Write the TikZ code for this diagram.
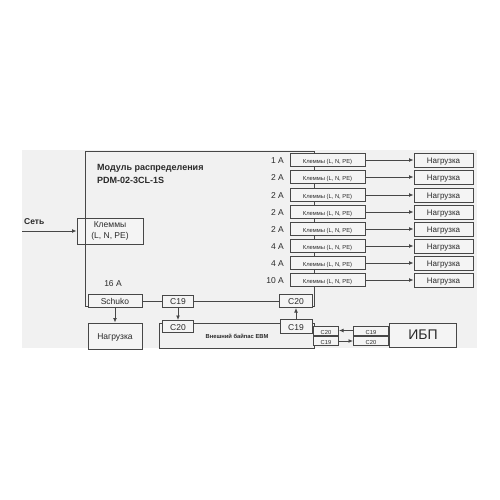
\documentclass[tikz,border=0pt]{standalone}
\usepackage{fontspec}
\setmainfont{Liberation Sans}
\usetikzlibrary{arrows.meta}
\definecolor{bgc}{HTML}{F1F1F1}
\definecolor{boxc}{HTML}{F4F4F4}
\definecolor{linec}{HTML}{474747}
\definecolor{txtc}{HTML}{2A2A2A}
\tikzset{
  box/.style={draw=linec, fill=boxc, line width=1pt, inner sep=0pt, text=txtc},
  one/.style={text height=0.72em, text depth=0pt},
  fA/.style={font=\fontsize{8.5}{10}\selectfont},
  fS/.style={font=\fontsize{5.8}{7}\selectfont},
  fN/.style={font=\fontsize{8}{9.5}\selectfont},
  lbl/.style={text=txtc, inner sep=0pt},
  wire/.style={draw=linec, line width=1pt},
  arr/.style={wire, -{Latex[length=4.5pt,width=4pt]}},
}
\begin{document}
\begin{tikzpicture}[x=1pt,y=-1pt]
\useasboundingbox (0,0) rectangle (500,500);
\fill[bgc] (22,150) rectangle (477,348);

% bypass frame (behind boxes)
\draw[wire] (159,323) rectangle (314,348);

% nodes
\node[box, fA, align=center, minimum width=66pt, minimum height=26pt] (klem) at (110,231) {Клеммы\\[1pt](L, N, PE)};
\node[lbl, font=\fontsize{8.5}{10}\bfseries, anchor=west] (set) at (24,222) {Сеть};
\coordinate (setin) at (22,231);

\node[box, one, fA, minimum width=54pt, minimum height=13pt] (schuko) at (115,301) {Schuko};
\node[lbl, fA] (a16) at (113,284) {16 A};
\node[box, one, fA, minimum width=54pt, minimum height=26pt] (nag) at (115,336) {Нагрузка};

\node[box, one, fA, minimum width=31pt, minimum height=12pt] (c19a) at (178,301) {C19};
\node[box, one, fA, minimum width=33pt, minimum height=13pt] (c20a) at (296,301) {C20};

% module frame
\coordinate (tl) at (85,151);
\coordinate (tr) at (314,151);
\draw[wire] ([yshift=1.5pt]schuko.south west) -| (tl) -- (tr) |- ([yshift=1.5pt]c20a.south east);

\node[lbl, anchor=west, align=left, font=\fontsize{9}{13.5}\bfseries] (title) at (97,174) {Модуль распределения\\PDM-02-3CL-1S};

% rows
\foreach \i/\y/\a in {1/160/1 A,2/177/2 A,3/195/2 A,4/212/2 A,5/229/2 A,6/246/4 A,7/263/4 A,8/280/10 A}{
  \node[lbl, one, fA, anchor=east] (amp\i) at (284,\y) {\a};
  \node[box, one, fS, minimum width=75pt, minimum height=13pt] (kl\i) at (327.5,\y) {Клеммы (L, N, PE)};
  \node[box, one, fN, minimum width=59pt, minimum height=14pt] (n\i) at (443.5,\y) {Нагрузка};
  \draw[arr] (kl\i) -- (n\i);
}

\node[box, one, fA, minimum width=31pt, minimum height=12pt] (c20b) at (178,326.5) {C20};
\node[box, one, fA, minimum width=32pt, minimum height=14pt] (c19b) at (296,326.5) {C19};
\node[lbl, font=\fontsize{5.8}{7}\bfseries] (bypass) at (237,336) {Внешний байпас ЕВМ};

\node[box, one, fS, minimum width=25pt, minimum height=9pt] (sc20) at (326,330.5) {C20};
\node[box, one, fS, minimum width=25pt, minimum height=9pt] (sc19) at (326,341) {C19};
\node[box, one, fS, minimum width=35pt, minimum height=9pt] (uc19) at (371,330.5) {C19};
\node[box, one, fS, minimum width=35pt, minimum height=9pt] (uc20) at (371,341) {C20};
\node[box, one, font=\fontsize{14}{16}\selectfont, minimum width=67pt, minimum height=24pt] (ups) at (423,335.5) {ИБП};

% connectors
\draw[arr] (setin) -- (klem.west);
\draw[arr] (schuko) -- (nag);
\draw[wire] (schuko) -- (c19a);
\draw[wire] (c19a) -- (c20a);
\draw[arr] (c19a) -- (c20b);
\draw[arr] (c19b) -- (c20a);
\draw[arr] (uc19) -- (sc20);
\draw[arr] (sc19) -- (uc20);
\end{tikzpicture}
\end{document}
